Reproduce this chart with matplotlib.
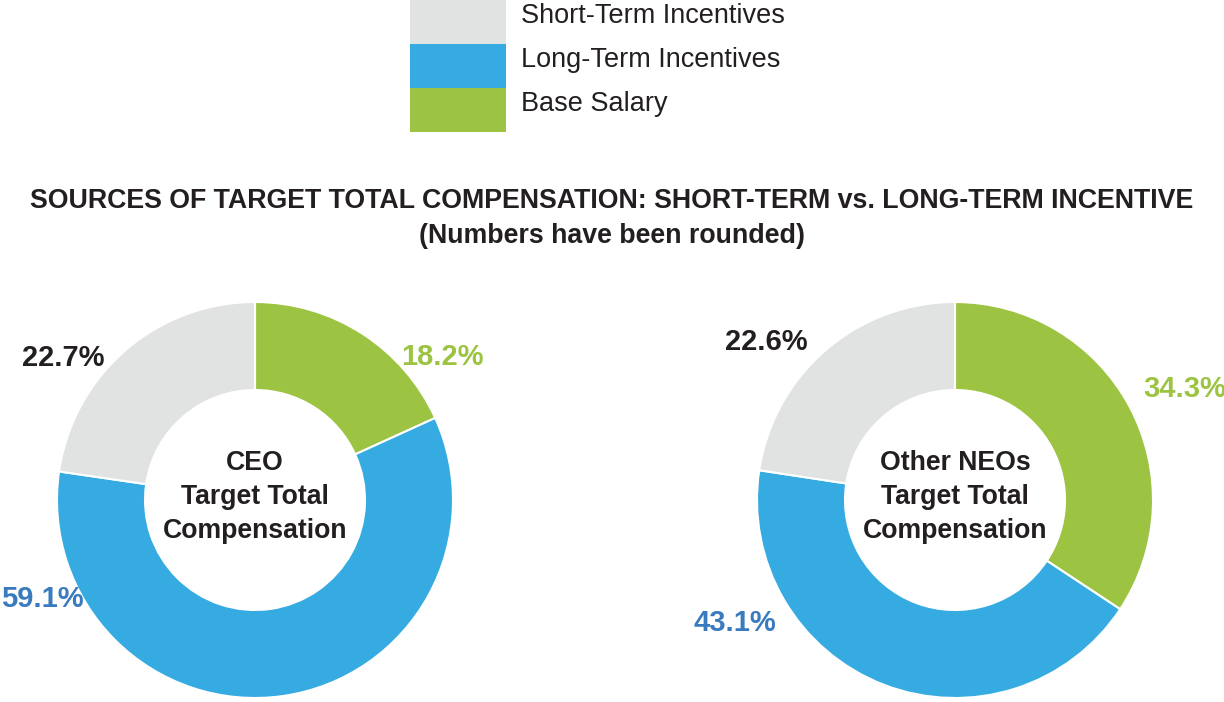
import matplotlib
matplotlib.use("Agg")
import matplotlib.pyplot as plt
from matplotlib.patches import Rectangle

plt.rcParams['font.family'] = ['Liberation Sans', 'DejaVu Sans']

categories = ["Short-Term Incentives", "Long-Term Incentives", "Base Salary"]
colors = {"Short-Term Incentives": "#E1E2E2", "Long-Term Incentives": "#36ABE2", "Base Salary": "#9CC442"}
label_colors = {"Short-Term Incentives": "#231F20", "Long-Term Incentives": "#3A7BBF", "Base Salary": "#9CC442"}

# pie order (clockwise from 12 o'clock): Base Salary, Long-Term, Short-Term
pie_order = ["Base Salary", "Long-Term Incentives", "Short-Term Incentives"]
ceo_values = [18.2, 59.1, 22.7]
neo_values = [34.3, 43.1, 22.6]
center_titles = ["CEO\nTarget Total\nCompensation", "Other NEOs\nTarget Total\nCompensation"]
title_line1 = "SOURCES OF TARGET TOTAL COMPENSATION: SHORT-TERM vs. LONG-TERM INCENTIVE"
title_line2 = "(Numbers have been rounded)"

W, H = 1224, 702
fig = plt.figure(figsize=(W / 100, H / 100), dpi=100)
ax = fig.add_axes([0, 0, 1, 1])
ax.set_xlim(0, W)
ax.set_ylim(0, H)
ax.set_aspect('equal')
ax.axis('off')

def Y(y):
    return H - y

# legend (top)
for i, name in enumerate(categories):
    ax.add_patch(Rectangle((410, Y(44 * (i + 1))), 96, 44, facecolor=colors[name], edgecolor='none'))
    ax.text(521, Y(44 * i + 16), name, fontsize=19.5, color="#231F20", va='center', ha='left')

# titles
ax.text(612, Y(201), title_line1, fontsize=19.3, fontweight='bold', color="#231F20", ha='center', va='center')
ax.text(612, Y(236), title_line2, fontsize=19.3, fontweight='bold', color="#231F20", ha='center', va='center')

def donut(cx, values, title, label_pos):
    cols = [colors[n] for n in pie_order]
    ax.pie(values, colors=cols, center=(cx, Y(500)), radius=198, startangle=90,
           counterclock=False, wedgeprops=dict(width=88, edgecolor='white', linewidth=1.5))
    ax.text(cx, Y(497), title, fontsize=19.2, fontweight='bold', color="#231F20",
            ha='center', va='center', linespacing=1.4)
    for name, v, (lx, ly) in zip(pie_order, values, label_pos):
        ax.text(lx, Y(ly), f"{v:.1f}%", fontsize=21, fontweight='bold',
                color=label_colors[name], ha='center', va='center')

donut(255, ceo_values, center_titles[0], [(442, 357), (42, 599), (63, 358)])
donut(955, neo_values, center_titles[1], [(1185, 389), (735, 623), (766, 342)])

ax.set_xlim(0, W)
ax.set_ylim(0, H)
fig.savefig("out.png", dpi=100)
